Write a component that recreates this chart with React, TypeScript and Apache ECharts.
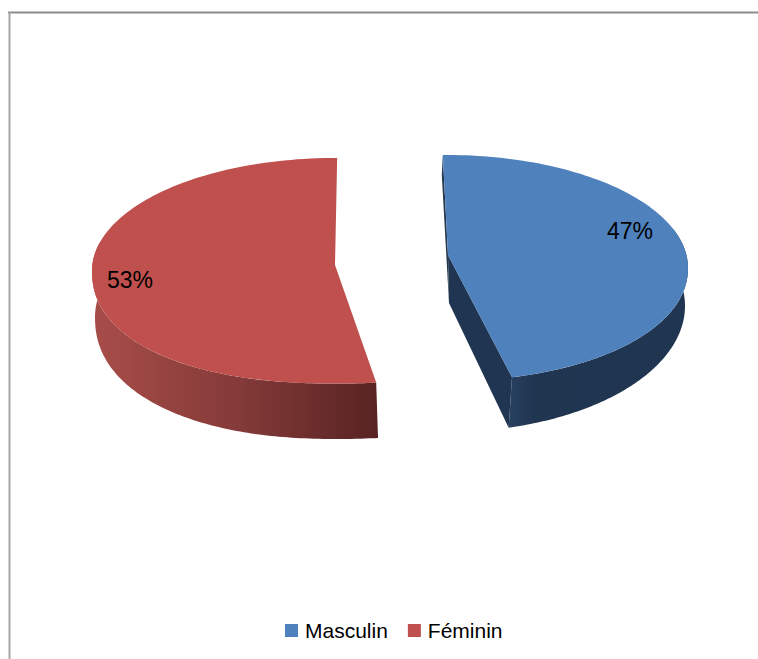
import React, { useEffect, useRef } from "react";
import * as echarts from "echarts";

const categories = ["Masculin", "Féminin"];
const shares = [47, 53];

const TOTAL = shares.reduce((a, b) => a + b, 0);
const FONT = '"Liberation Sans", Arial, sans-serif';

type Oval = { cx: number; cy: number; rx: number; ry: number; p: number };
type Geo = {
  color: string;
  wall: any;
  apex: number[];
  lowerApex: number[] | null;
  top: Oval;
  low: Oval;
  start: number;
  warp: number;
  wallFrom: number;
  wallTo: number;
  label: number[];
};

const geometry: Geo[] = [
  {
    color: "#4f81bd",
    wall: new echarts.graphic.LinearGradient(0, 0, 1, 0, [
      { offset: 0, color: "#27415f" },
      { offset: 0.15, color: "#203550" },
      { offset: 1, color: "#1f3551" },
    ]),
    apex: [448, 255],
    lowerApex: [449, 303],
    top: { cx: 447, cy: 268, rx: 241, ry: 113, p: 0.97 },
    low: { cx: 447, cy: 306, rx: 238, ry: 126, p: 1 },
    start: -1,
    warp: 0.981,
    wallFrom: 70,
    wallTo: 165,
    label: [630, 231],
  },
  {
    color: "#bf504d",
    wall: new echarts.graphic.LinearGradient(0, 0, 1, 0, [
      { offset: 0, color: "#a84d49" },
      { offset: 0.5, color: "#853b39" },
      { offset: 1, color: "#572322" },
    ]),
    apex: [335, 265],
    lowerApex: null,
    top: { cx: 335, cy: 270.8, rx: 243, ry: 112.8, p: 0.9 },
    low: { cx: 337, cy: 317, rx: 242, ry: 122, p: 0.9 },
    start: 172,
    warp: 0.988,
    wallFrom: 172,
    wallTo: 285,
    label: [130, 280],
  },
];

const pt = (e: Oval, deg: number) => {
  const t = (deg * Math.PI) / 180;
  const s = Math.sin(t);
  const c = Math.cos(t);
  if (c >= 0) return [e.cx + e.rx * s, e.cy - e.ry * c];
  return [
    e.cx + e.rx * Math.sign(s) * Math.pow(Math.abs(s), e.p),
    e.cy + e.ry * Math.pow(Math.abs(c), e.p),
  ];
};

const arc = (e: Oval, from: number, to: number) => {
  const out: number[][] = [];
  const n = 120;
  for (let i = 0; i <= n; i++) out.push(pt(e, from + ((to - from) * i) / n));
  return out;
};

const makeRender = (g: Geo) => (_params: any, api: any) => {
  const value = api.value(0) as number;
  const sweep = (value / TOTAL) * 360 * g.warp;
  const end = g.start + sweep;
  const rim = arc(g.top, g.start, end);
  const children: any[] = [];
  const wallTo = Math.min(g.wallTo, end);
  const wallPts = [
    ...arc(g.low, g.wallFrom, wallTo),
    ...arc(g.top, wallTo, g.wallFrom),
  ];
  children.push({
    type: "polygon",
    shape: { points: wallPts },
    style: { fill: g.wall },
  });
  if (g.lowerApex) {
    const endLow = pt(g.low, end);
    const endTop = pt(g.top, end);
    const startTop = pt(g.top, g.start);
    children.push({
      type: "polygon",
      shape: { points: [g.apex, g.lowerApex, endLow, endTop] },
      style: { fill: "#1f3551" },
    });
    children.push({
      type: "polygon",
      shape: { points: [startTop, g.apex, g.lowerApex, [startTop[0] - 1, startTop[1] + 20]] },
      style: { fill: "#26394f" },
    });
  }
  children.push({
    type: "polygon",
    shape: { points: [g.apex, ...rim] },
    style: { fill: g.color },
  });
  children.push({
    type: "text",
    style: {
      x: g.label[0],
      y: g.label[1],
      text: `${Math.round((value / TOTAL) * 100)}%`,
      fill: "#000000",
      fontFamily: FONT,
      fontSize: 23,
      textAlign: "center",
      textVerticalAlign: "middle",
    },
  });
  return { type: "group", children };
};

export default function App() {
  const ref = useRef<HTMLDivElement>(null);
  useEffect(() => {
    const chart = echarts.init(ref.current!, undefined, { renderer: "svg" });
    chart.setOption({
      animation: false,
      backgroundColor: "#ffffff",
      legend: {
        data: categories,
        left: 280,
        top: 615,
        icon: "rect",
        itemWidth: 13,
        itemHeight: 13,
        itemGap: 20,
        selectedMode: false,
        textStyle: { fontFamily: FONT, fontSize: 21, color: "#000000", padding: [0, 0, 0, 2] },
      },
      graphic: [
        {
          type: "line",
          silent: true,
          shape: { x1: 8, y1: 12.5, x2: 758, y2: 12.5 },
          style: { stroke: "#8c8c8c", lineWidth: 2 },
        },
        {
          type: "line",
          silent: true,
          shape: { x1: 9.5, y1: 12, x2: 9.5, y2: 659 },
          style: { stroke: "#a6a6a6", lineWidth: 2 },
        },
      ],
      series: categories.map((name, i) => ({
        type: "custom",
        name,
        coordinateSystem: "none",
        silent: true,
        itemStyle: { color: geometry[i].color },
        data: [[shares[i]]],
        renderItem: makeRender(geometry[i]),
      })),
    });
    return () => chart.dispose();
  }, []);
  return (
    <div
      ref={ref}
      style={{ position: "absolute", left: 0, top: 0, width: 758, height: 659 }}
    />
  );
}
